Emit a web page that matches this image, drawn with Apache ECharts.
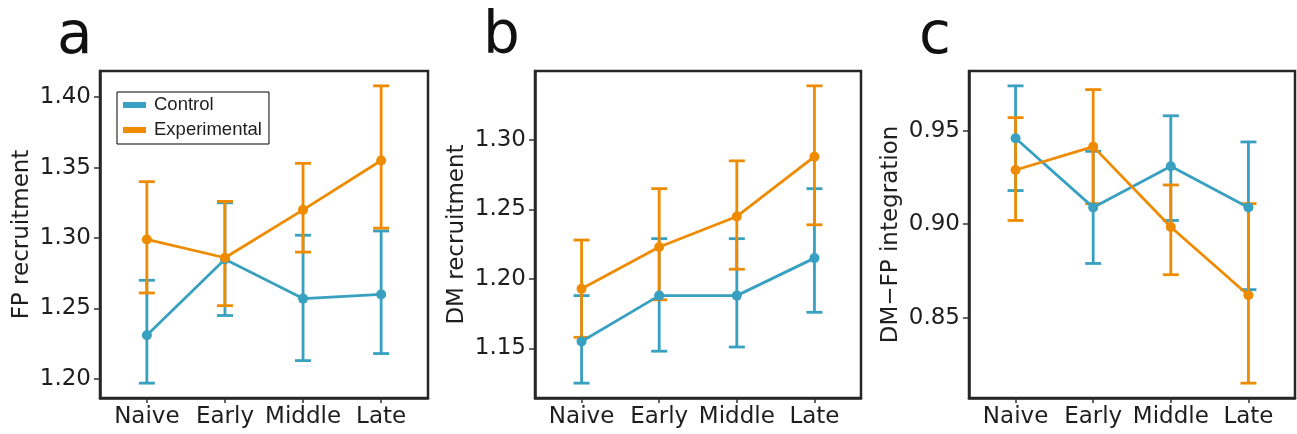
<!DOCTYPE html>
<html>
<head>
<meta charset="utf-8">
<script src="https://cdn.jsdelivr.net/npm/echarts@6/dist/echarts.min.js"></script>
<style>
html,body{margin:0;padding:0;background:#fff;}
#chart{width:1297px;height:434px;}
</style>
</head>
<body>
<div id="chart"></div>
<script>
// ---- data ----
const categories = ['Naive', 'Early', 'Middle', 'Late'];
const seriesNames = ['Control', 'Experimental'];
const panelLetters = ['a', 'b', 'c'];
const panelTitles = ['FP recruitment', 'DM recruitment', 'DM\u2212FP integration'];

// Panel a: FP recruitment
const fpControl   = [1.231, 1.285, 1.257, 1.260];
const fpControlLo = [1.197, 1.245, 1.213, 1.218];
const fpControlHi = [1.270, 1.325, 1.302, 1.305];
const fpExp       = [1.299, 1.286, 1.320, 1.355];
const fpExpLo     = [1.261, 1.252, 1.290, 1.307];
const fpExpHi     = [1.340, 1.326, 1.353, 1.408];

// Panel b: DM recruitment
const dmControl   = [1.155, 1.188, 1.188, 1.215];
const dmControlLo = [1.125, 1.148, 1.151, 1.176];
const dmControlHi = [1.188, 1.229, 1.229, 1.265];
const dmExp       = [1.193, 1.223, 1.245, 1.288];
const dmExpLo     = [1.158, 1.185, 1.207, 1.239];
const dmExpHi     = [1.228, 1.265, 1.285, 1.339];

// Panel c: DM-FP integration
const intControl   = [0.946, 0.909, 0.931, 0.909];
const intControlLo = [0.918, 0.879, 0.902, 0.865];
const intControlHi = [0.974, 0.939, 0.958, 0.944];
const intExp       = [0.929, 0.9415, 0.8985, 0.862];
const intExpLo     = [0.902, 0.911, 0.873, 0.815];
const intExpHi     = [0.957, 0.972, 0.921, 0.911];

// y tick labels
const fpTicks  = [1.20, 1.25, 1.30, 1.35, 1.40];
const dmTicks  = [1.15, 1.20, 1.25, 1.30];
const intTicks = [0.85, 0.90, 0.95];

// ---- build ----
const panels = [
  { ctrl: [fpControl, fpControlLo, fpControlHi], exp: [fpExp, fpExpLo, fpExpHi], ticks: fpTicks },
  { ctrl: [dmControl, dmControlLo, dmControlHi], exp: [dmExp, dmExpLo, dmExpHi], ticks: dmTicks },
  { ctrl: [intControl, intControlLo, intControlHi], exp: [intExp, intExpLo, intExpHi], ticks: intTicks }
];
const colors = ['#38A0C0', '#EF8B00'];
const gridDefs = [
  { left: 100, top: 71, width: 328, height: 327 },
  { left: 535, top: 71, width: 326, height: 327 },
  { left: 969, top: 71, width: 326, height: 327 }
];
const FONT = 'DejaVu Sans';
const TXT = '#1e1e1e';
const XC = categories.map((c, i) => i + 1);

const grids = [], xAxes = [], yAxes = [], series = [], graphics = [];

panels.forEach((p, k) => {
  grids.push(Object.assign({ show: true, borderColor: '#262626', borderWidth: 2.5, backgroundColor: 'transparent' }, gridDefs[k]));
  const allVals = [].concat(p.ctrl[1], p.ctrl[2], p.exp[1], p.exp[2]);
  const lo = Math.min.apply(null, allVals), hi = Math.max.apply(null, allVals);
  const pad = (hi - lo) * 0.05;
  xAxes.push({
    gridIndex: k, type: 'value', min: 0.4, max: 4.6,
    axisLine: { show: true, lineStyle: { color: '#262626', width: 2.5 } },
    axisTick: { show: true, length: 5, customValues: XC, lineStyle: { color: '#333', width: 1.5 } },
    axisLabel: { show: true, customValues: XC, margin: 8, fontFamily: FONT, fontSize: 23, color: TXT,
      formatter: v => categories[Math.round(v) - 1] || '' },
    splitLine: { show: false }
  });
  yAxes.push({
    gridIndex: k, type: 'value', min: lo - pad, max: hi + pad,
    name: panelTitles[k], nameLocation: 'middle', nameGap: 66,
    nameTextStyle: { fontFamily: FONT, fontSize: 23, color: TXT },
    axisLine: { show: true, lineStyle: { color: '#262626', width: 2.5 } },
    axisTick: { show: true, length: 6, customValues: p.ticks, lineStyle: { color: '#333', width: 1.5 } },
    axisLabel: { show: true, customValues: p.ticks, margin: 9, fontFamily: FONT, fontSize: 23, color: TXT,
      formatter: v => v.toFixed(2) },
    splitLine: { show: false }
  });
  [p.ctrl, p.exp].forEach((s, j) => {
    const col = colors[j];
    series.push({
      type: 'custom', name: seriesNames[j], xAxisIndex: k, yAxisIndex: k, z: 1,
      itemStyle: { color: col },
      data: XC.map((x, i) => [x, s[1][i], s[2][i]]),
      encode: { x: 0, y: [1, 2] },
      renderItem: (params, api) => {
        const x = api.value(0);
        const a = api.coord([x, api.value(1)]);
        const b = api.coord([x, api.value(2)]);
        const hw = 8;
        const st = { stroke: col, lineWidth: 2.8 };
        return { type: 'group', children: [
          { type: 'line', shape: { x1: a[0], y1: a[1], x2: b[0], y2: b[1] }, style: st },
          { type: 'line', shape: { x1: a[0] - hw, y1: a[1], x2: a[0] + hw, y2: a[1] }, style: st },
          { type: 'line', shape: { x1: b[0] - hw, y1: b[1], x2: b[0] + hw, y2: b[1] }, style: st }
        ] };
      }
    });
  });
  [p.ctrl, p.exp].forEach((s, j) => {
    series.push({
      type: 'line', name: seriesNames[j], xAxisIndex: k, yAxisIndex: k, z: 2,
      showSymbol: false, lineStyle: { color: colors[j], width: 2.8 }, itemStyle: { color: colors[j] },
      data: XC.map((x, i) => [x, s[0][i]]), animation: false
    });
  });
  [p.ctrl, p.exp].forEach((s, j) => {
    series.push({
      type: 'scatter', name: seriesNames[j], xAxisIndex: k, yAxisIndex: k, z: 3,
      symbol: 'circle', symbolSize: 10, itemStyle: { color: colors[j], opacity: 1 },
      data: XC.map((x, i) => [x, s[0][i]])
    });
  });
});

const letterPos = [[57, 41], [483, 41], [919, 41]];
panelLetters.forEach((t, k) => {
  graphics.push({ type: 'text', left: letterPos[k][0], top: letterPos[k][1] - 32,
    style: { text: t, fontFamily: FONT, fontSize: 58, fill: '#111' } });
});

const chart = echarts.init(document.getElementById('chart'), null, { renderer: 'canvas' });
chart.setOption({
  animation: false,
  backgroundColor: '#fff',
  grid: grids, xAxis: xAxes, yAxis: yAxes, series: series, graphic: graphics,
  legend: {
    data: seriesNames, orient: 'vertical', left: 117, top: 92,
    icon: 'rect', itemWidth: 23, itemHeight: 6, itemGap: 5,
    padding: [3, 7, 4, 6], borderColor: '#000', borderWidth: 1, backgroundColor: '#fff',
    selectedMode: false,
    textStyle: { fontFamily: 'Liberation Sans', fontSize: 18.5, color: TXT, lineHeight: 20, padding: [0, 0, 0, 3] }
  }
});
</script>
</body>
</html>
